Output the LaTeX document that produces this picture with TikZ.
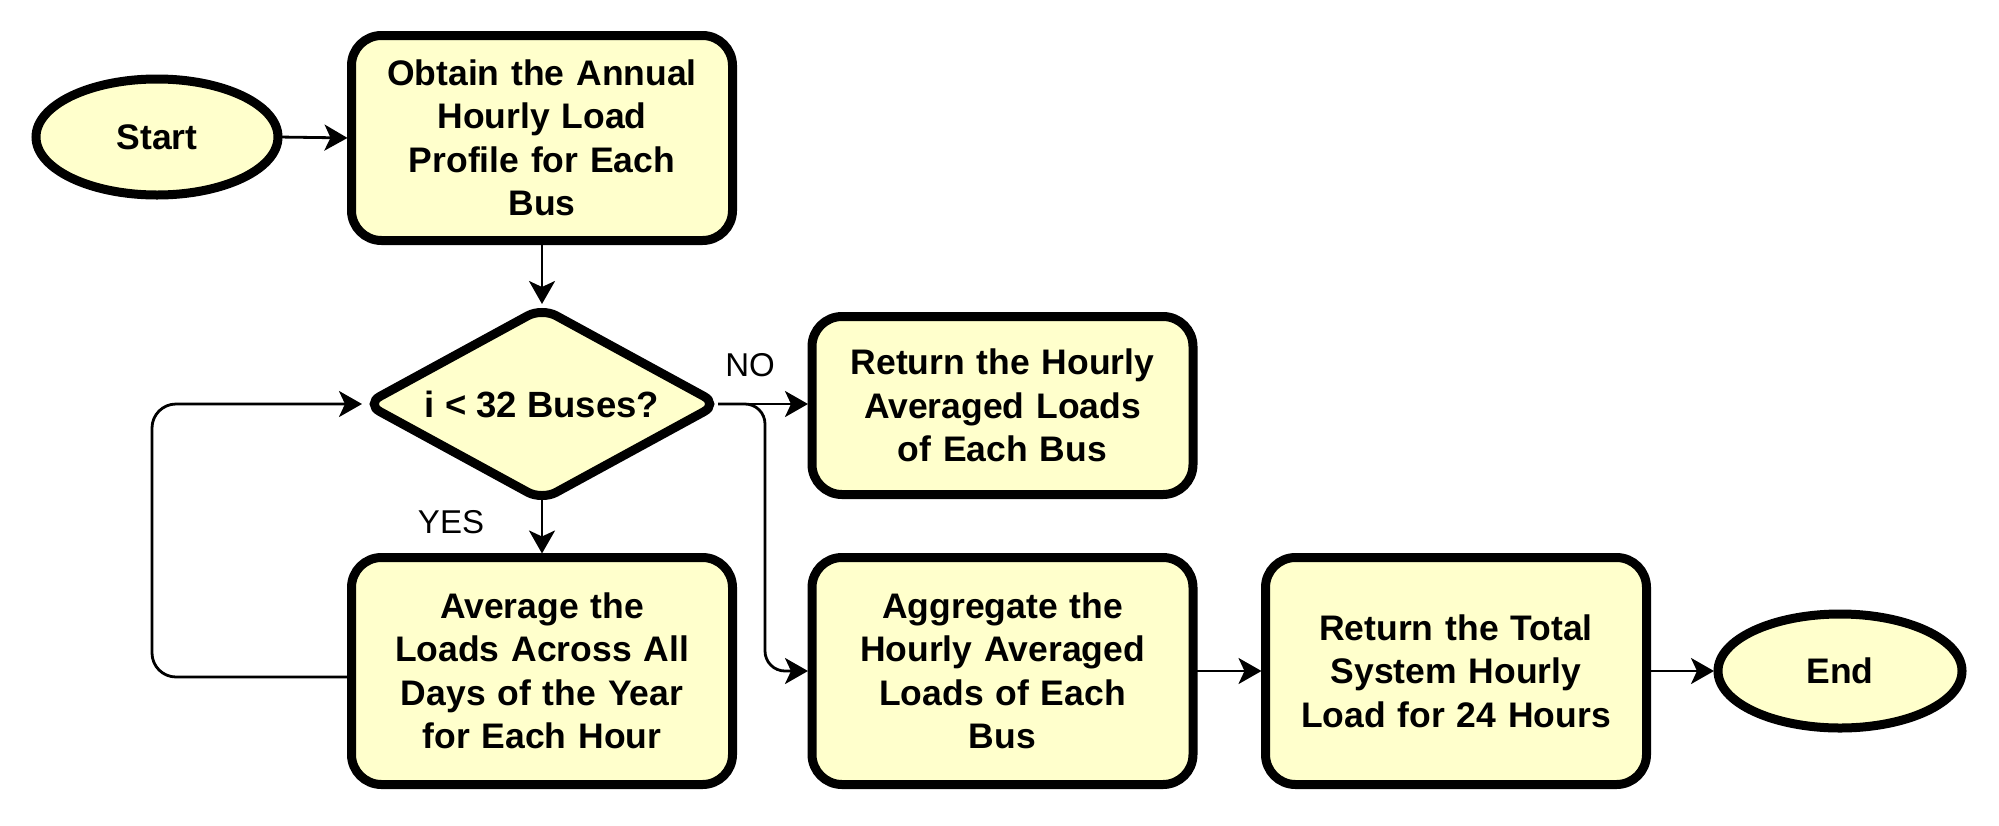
\documentclass[tikz,border=0pt]{standalone}
\usepackage{fontspec}
\setmainfont{Liberation Sans}
\usetikzlibrary{shapes.geometric,arrows.meta,calc}
\definecolor{boxfill}{RGB}{255,255,204}
\begin{document}
\begin{tikzpicture}[x=1pt,y=-1pt,
  every node/.style={inner sep=0pt, outer sep=0pt},
  box/.style={draw, line width=9pt, fill=boxfill, rounded corners=30pt,
    minimum width=381pt, text width=370pt, align=center,
    font=\bfseries\fontsize{35.5}{43.5}\selectfont},
  term/.style={draw, line width=9pt, fill=boxfill, ellipse,
    font=\bfseries\fontsize{35.5}{43.5}\selectfont},
  dec/.style={draw, line width=9pt, fill=boxfill, diamond, aspect=2, rounded corners=16pt,
    font=\bfseries\fontsize{36.5}{43.5}\selectfont},
  arr/.style={line width=2.8pt, -{Stealth[length=23pt,width=26pt,inset=6pt]}, shorten >=4pt},
  lbl/.style={font=\fontsize{33}{40}\selectfont}
]
\useasboundingbox (0,0) rectangle (1999,825);

\node[term, minimum width=242pt, minimum height=116pt] (start) at (157,137) {Start};
\node[box, minimum height=205pt] (obtain) at (542,138) {Obtain the Annual\\Hourly Load\\Profile for Each\\Bus};
\node[dec, minimum width=352pt, minimum height=192pt] (cond) at (542,404) {i < 32 Buses?};
\node[box, minimum height=178pt] (ret) at (1002.5,405.5) {Return the Hourly\\Averaged Loads\\of Each Bus};
\node[box, minimum height=227pt] (avg) at (542,671) {Average the\\Loads Across All\\Days of the Year\\for Each Hour};
\node[box, minimum height=227pt] (agg) at (1002.5,671) {Aggregate the\\Hourly Averaged\\Loads of Each\\Bus};
\node[box, minimum height=227pt] (tot) at (1456,671) {Return the Total\\System Hourly\\Load for 24 Hours};
\node[term, minimum width=244pt, minimum height=114pt] (end) at (1840,671) {End};

\node[lbl] (no) at (750,365) {NO};
\node[lbl] (yes) at (451,522) {YES};

\coordinate (bx) at (765,0);
\coordinate (lx) at (152,0);

\draw[arr] (start.east) -- (obtain.west);
\draw[arr] (obtain.south) -- (cond.north);
\draw[arr] (cond.east) -- (cond.east -| ret.west);
\draw[arr, rounded corners=20pt] (cond.east) -| (bx |- agg.west) -- (agg.west);
\draw[arr] (cond.south) -- (avg.north);
\draw[arr, rounded corners=24pt] ([yshift=-6pt]avg.west) -| (lx |- cond.west) -- (cond.west);
\draw[arr] (agg.east) -- (tot.west);
\draw[arr] (tot.east) -- (end.west);
\end{tikzpicture}
\end{document}
